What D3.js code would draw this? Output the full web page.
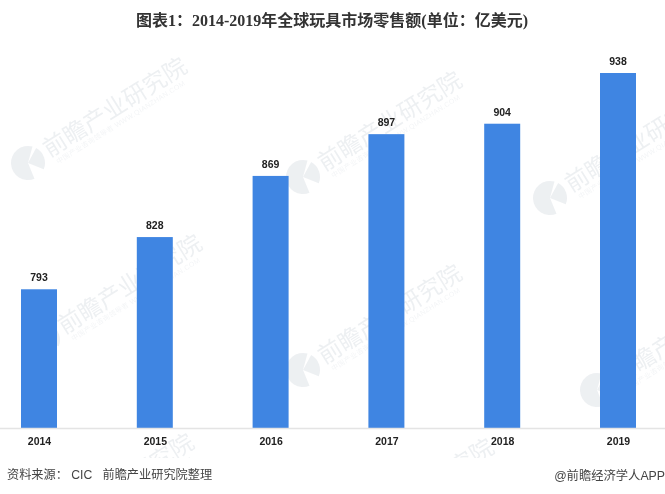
<!DOCTYPE html>
<html>
<head>
<meta charset="utf-8">
<script src="https://cdn.jsdelivr.net/npm/d3@7"></script>
<style>
  html, body { margin: 0; padding: 0; background: #fff; }
  svg { display: block; }
  text { font-family: "Liberation Sans", "Noto Sans CJK SC", sans-serif; }
</style>
</head>
<body>
<svg id="chart" width="665" height="494"></svg>
<script>
const years = ['2014', '2015', '2016', '2017', '2018', '2019']
const sales = [793, 828, 869, 897, 904, 938]
const titleText = '图表1：2014-2019年全球玩具市场零售额(单位：亿美元)'
const sourceText = '资料来源： CIC   前瞻产业研究院整理'
const brandText = '@前瞻经济学人APP'
const markText = '前瞻产业研究院'
const markSubText = '中国产业咨询领导者 WWW.QIANZHAN.COM'

const svg = d3.select('#chart')

const x = d3.scalePoint().domain(years).range([39, 618])
const y = d3.scaleLinear().domain([700, 938]).range([428, 73])
const barWidth = 36

// faint watermark goes under the bars, the footer band stays clean
svg.append('clipPath').attr('id', 'wmClip')
  .append('rect').attr('width', 665).attr('height', 458)

const marks = [[28, 163], [303, 177], [550, 198], [43, 340], [303, 370], [597, 390], [35, 539], [335, 544]]
const logoArc = d3.arc().innerRadius(0).outerRadius(17)
const wm = svg.append('g').attr('clip-path', 'url(#wmClip)')
  .attr('fill', '#6b7f94').attr('opacity', 0.12)

marks.forEach(([mx, my]) => {
  const g = wm.append('g').attr('transform', `translate(${mx},${my})`)
  g.append('path').attr('d', logoArc({ startAngle: 2.75, endAngle: 6.55 }))
  g.append('path').attr('d', logoArc({ startAngle: 0.5, endAngle: 1.95 }))
  const t = g.append('g').attr('transform', 'rotate(-32)')
  t.append('text').attr('x', 21).attr('y', 7)
    .attr('font-size', 23.5)
    .text(markText)
  t.append('text').attr('x', 25).attr('y', 17)
    .attr('font-size', 7)
    .attr('textLength', 150)
    .attr('opacity', 0.7)
    .text(markSubText)
})

svg.append('g').selectAll('rect').data(sales).join('rect')
  .attr('x', (d, i) => x(years[i]) - barWidth / 2)
  .attr('y', d => y(d))
  .attr('width', barWidth)
  .attr('height', d => y.range()[0] - y(d))
  .attr('fill', '#3f85e2')

svg.append('g').selectAll('text').data(sales).join('text')
  .attr('x', (d, i) => x(years[i]))
  .attr('y', d => y(d) - 8)
  .attr('text-anchor', 'middle')
  .attr('font-size', 10.5)
  .attr('font-weight', 700)
  .attr('fill', '#222')
  .text(d => d)

const xAxis = svg.append('g')
  .attr('transform', 'translate(0,428)')
  .call(d3.axisBottom(x).tickSize(0).tickPadding(10))
xAxis.select('.domain').attr('d', 'M0,0.5H665').attr('stroke', '#e4e4e4').attr('stroke-width', 1.5)
xAxis.selectAll('text')
  .style('font-family', '"Liberation Sans", sans-serif')
  .attr('font-size', 10.5)
  .attr('font-weight', 700)
  .attr('fill', '#222')

svg.append('text')
  .attr('x', 332).attr('y', 26)
  .attr('text-anchor', 'middle')
  .attr('font-size', 16)
  .attr('font-weight', 700)
  .style('font-family', '"Liberation Serif", "Noto Sans CJK SC", serif')
  .attr('fill', '#333')
  .text(titleText)

svg.append('text')
  .attr('x', 7).attr('y', 479)
  .attr('font-size', 12.2)
  .attr('fill', '#444')
  .style('white-space', 'pre')
  .text(sourceText)

svg.append('text')
  .attr('x', 665).attr('y', 480)
  .attr('text-anchor', 'end')
  .attr('font-size', 12.3)
  .attr('fill', '#444')
  .text(brandText)
</script>
</body>
</html>
